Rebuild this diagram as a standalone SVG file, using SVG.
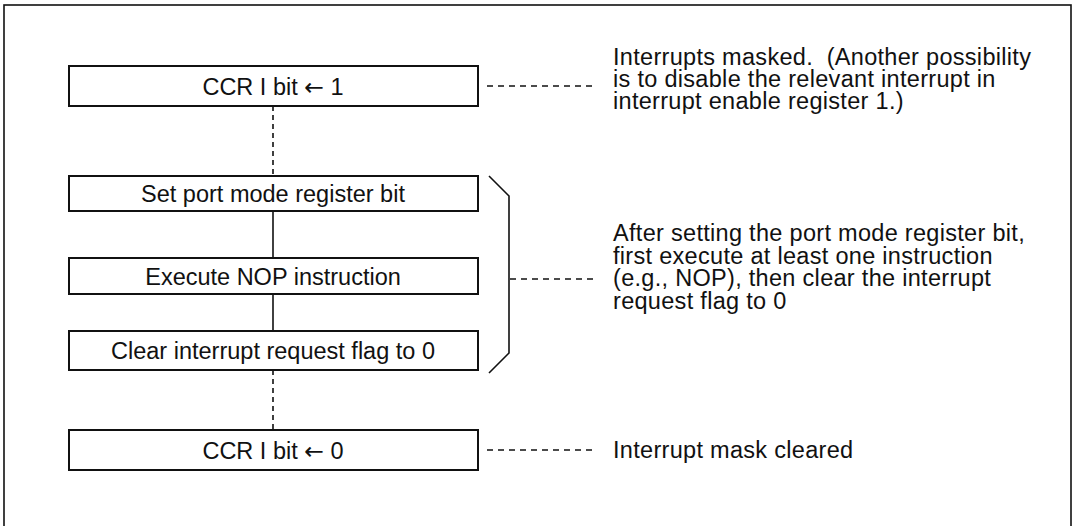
<svg xmlns="http://www.w3.org/2000/svg" width="1074" height="526" viewBox="0 0 1074 526">
<style>
.frame{fill:none;stroke:#111;stroke-width:1.6}
.box{fill:#fff;stroke:#111;stroke-width:2}
.lbl{font-family:"Liberation Sans",Arial,Helvetica,sans-serif;font-size:23.5px;fill:#111;text-anchor:middle}
.note{font-family:"Liberation Sans",Arial,Helvetica,sans-serif;font-size:23.5px;fill:#111;letter-spacing:0.3px}
.arr{font-family:"DejaVu Sans",sans-serif}
.dash{fill:none;stroke:#111;stroke-width:1.4;stroke-dasharray:6 5}
.vdash{fill:none;stroke:#111;stroke-width:1.6;stroke-dasharray:5 4}
.solid{fill:none;stroke:#111;stroke-width:1.6}
</style>
<rect width="1074" height="526" fill="#fff"/>
<rect class="frame" x="4" y="5" width="1067" height="560"/>
<g id="connectors">
<line class="vdash" x1="273" y1="106" x2="273" y2="176"/>
<line class="solid" x1="273" y1="211" x2="273" y2="258"/>
<line class="solid" x1="273" y1="294" x2="273" y2="331"/>
<line class="vdash" x1="273" y1="370" x2="273" y2="430"/>
<polyline class="solid" points="489,176 509,196 509,353 489,373"/>
<line class="dash" x1="487" y1="86" x2="597" y2="86"/>
<line class="dash" x1="510" y1="279" x2="598" y2="279"/>
<line class="dash" x1="487" y1="450" x2="597" y2="450"/>
</g>
<g id="n1">
<rect class="box" x="69" y="66" width="409" height="40"/>
<text class="lbl" x="273" y="94.5">CCR I bit <tspan class="arr">←</tspan> 1</text>
</g>
<g id="n2">
<rect class="box" x="69" y="176" width="409" height="35"/>
<text class="lbl" x="273" y="202">Set port mode register bit</text>
</g>
<g id="n3">
<rect class="box" x="69" y="258" width="409" height="36"/>
<text class="lbl" x="273" y="284.5">Execute NOP instruction</text>
</g>
<g id="n4">
<rect class="box" x="69" y="331" width="409" height="39"/>
<text class="lbl" x="273" y="359">Clear interrupt request flag to 0</text>
</g>
<g id="n5">
<rect class="box" x="69" y="430" width="409" height="40"/>
<text class="lbl" x="273" y="458.5">CCR I bit <tspan class="arr">←</tspan> 0</text>
</g>
<g id="note1">
<text class="note" x="613" y="65">Interrupts masked.&#160; (Another possibility</text>
<text class="note" x="613" y="87">is to disable the relevant interrupt in</text>
<text class="note" x="613" y="109">interrupt enable register 1.)</text>
</g>
<g id="note2">
<text class="note" x="613" y="241">After setting the port mode register bit,</text>
<text class="note" x="613" y="263.5">first execute at least one instruction</text>
<text class="note" x="613" y="286">(e.g., NOP), then clear the interrupt</text>
<text class="note" x="613" y="308.5">request flag to 0</text>
</g>
<g id="note3">
<text class="note" x="613" y="458">Interrupt mask cleared</text>
</g>
</svg>
